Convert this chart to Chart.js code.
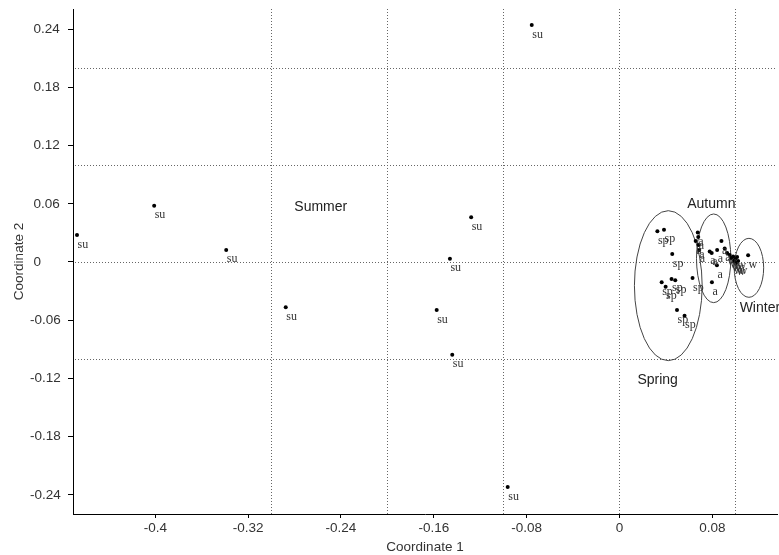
<!DOCTYPE html>
<html>
<head>
<meta charset="utf-8">
<script src="https://cdn.jsdelivr.net/npm/chart.js@4.4.1/dist/chart.umd.min.js"></script>
<style>
html,body{margin:0;padding:0;background:#fff;}
#wrap{width:779px;height:555px;}
</style>
</head>
<body>
<div id="wrap"><canvas id="c" width="779" height="555"></canvas></div>
<script>
// ---- data ----
const xTicks = [-0.4, -0.32, -0.24, -0.16, -0.08, 0, 0.08];
const yTicks = [0.24, 0.18, 0.12, 0.06, 0, -0.06, -0.12, -0.18, -0.24];
const xGridLines = [-0.3, -0.2, -0.1, 0, 0.1];
const yGridLines = [0.2, 0.1, 0, -0.1];

const summerX = [-0.4675, -0.401, -0.3389, -0.2876, -0.0756, -0.1278, -0.1461, -0.1575, -0.1441, -0.0963];
const summerY = [0.0278, 0.058, 0.0124, -0.0467, 0.2443, 0.0461, 0.0034, -0.0495, -0.0956, -0.232];

const springX = [0.0327, 0.0384, 0.0455, 0.0364, 0.0398, 0.0449, 0.0481, 0.0630, 0.0496, 0.0561];
const springY = [0.0316, 0.0333, 0.0082, -0.0209, -0.0255, -0.0175, -0.0189, -0.0165, -0.0495, -0.0554];

const autumnX = [0.0675, 0.0679, 0.0657, 0.0683, 0.0688, 0.0778, 0.0795, 0.0842, 0.0879, 0.0907, 0.0840, 0.0797];
const autumnY = [0.0304, 0.0258, 0.0216, 0.0175, 0.0124, 0.0108, 0.0093, 0.0124, 0.0216, 0.0139, -0.0034, -0.0209];

const winterX = [0.0928, 0.0950, 0.0963, 0.0980, 0.0997, 0.1014, 0.1023, 0.0984, 0.1006, 0.1109];
const winterY = [0.0093, 0.0072, 0.0041, 0.0057, 0.0031, 0.0052, 0.0010, 0.0010, -0.0010, 0.0069];

const seasonNames = ['Summer', 'Autumn', 'Winter', 'Spring'];
const seasonLabelX = [-0.2802, 0.0584, 0.1036, 0.0155];
const seasonLabelY = [0.0567, 0.0593, -0.0479, -0.1222];

// confidence ellipses: Spring, Autumn, Winter (data units)
const ellipseCx = [0.0421, 0.0812, 0.1116];
const ellipseCy = [-0.0244, 0.0038, -0.0060];
const ellipseRx = [0.0292, 0.0148, 0.0127];
const ellipseRy = [0.0773, 0.0457, 0.0304];

const pointTags = ['su', 'sp', 'a', 'w'];

function pts(xs, ys){ return xs.map((x,i)=>({x:x, y:ys[i]})); }

const SANS = '"Liberation Sans", Arial, sans-serif';
const SERIF = '"Liberation Serif", "Times New Roman", serif';

const overlay = {
  id: 'overlay',
  beforeDatasetsDraw(chart){
    const {ctx, chartArea:a, scales:{x, y}} = chart;
    ctx.save();
    ctx.strokeStyle = '#666';
    ctx.lineWidth = 1;
    ctx.setLineDash([1, 2]);
    yGridLines.forEach(v=>{
      const py = Math.round(y.getPixelForValue(v)) + 0.5;
      ctx.beginPath(); ctx.moveTo(a.left + 2, py); ctx.lineTo(a.right, py); ctx.stroke();
    });
    xGridLines.forEach(v=>{
      const px = Math.round(x.getPixelForValue(v)) + 0.5;
      ctx.beginPath(); ctx.moveTo(px, a.top); ctx.lineTo(px, a.bottom); ctx.stroke();
    });
    ctx.setLineDash([]);
    // ellipses
    ctx.strokeStyle = '#444';
    ctx.lineWidth = 1;
    ellipseCx.forEach((cx,i)=>{
      const px = x.getPixelForValue(cx), py = y.getPixelForValue(ellipseCy[i]);
      const rx = Math.abs(x.getPixelForValue(cx + ellipseRx[i]) - px);
      const ry = Math.abs(y.getPixelForValue(ellipseCy[i] + ellipseRy[i]) - py);
      ctx.beginPath(); ctx.ellipse(px, py, rx, ry, 0, 0, Math.PI*2); ctx.stroke();
    });
    ctx.restore();
  },
  afterDatasetsDraw(chart){
    const {ctx, scales:{x, y}} = chart;
    ctx.save();
    // point tags
    ctx.font = '12px ' + SERIF;
    ctx.fillStyle = '#333';
    ctx.textAlign = 'left';
    ctx.textBaseline = 'alphabetic';
    chart.data.datasets.forEach((ds, di)=>{
      const meta = chart.getDatasetMeta(di);
      meta.data.forEach(el=>{
        ctx.fillText(pointTags[di], el.x + 0.5, el.y + 12.5);
      });
    });
    // season names
    ctx.font = '14px ' + SANS;
    ctx.fillStyle = '#222';
    ctx.textBaseline = 'middle';
    seasonNames.forEach((n,i)=>{
      ctx.fillText(n, x.getPixelForValue(seasonLabelX[i]), y.getPixelForValue(seasonLabelY[i]));
    });
    // y tick labels (left aligned, minus hanging)
    ctx.font = '13.5px ' + SANS;
    ctx.fillStyle = '#333';
    yTicks.forEach(v=>{
      const lab = String(v);
      const px = v < 0 ? 30 : 33.5;
      ctx.fillText(lab, px, y.getPixelForValue(v));
    });
    ctx.restore();
  }
};

const dsBase = {pointRadius: 2, pointHoverRadius: 2, pointBackgroundColor: '#000', pointBorderWidth: 0, showLine: false};

new Chart(document.getElementById('c'), {
  type: 'scatter',
  data: {
    datasets: [
      Object.assign({label: 'Summer', data: pts(summerX, summerY)}, dsBase),
      Object.assign({label: 'Spring', data: pts(springX, springY)}, dsBase),
      Object.assign({label: 'Autumn', data: pts(autumnX, autumnY)}, dsBase),
      Object.assign({label: 'Winter', data: pts(winterX, winterY)}, dsBase)
    ]
  },
  options: {
    responsive: false,
    devicePixelRatio: 1,
    animation: false,
    events: [],
    layout: {padding: {left: 0, top: 9, right: 0, bottom: 0}},
    plugins: {legend: {display: false}, tooltip: {enabled: false}},
    scales: {
      x: {
        type: 'linear',
        min: -0.47095, max: 0.13579,
        afterBuildTicks: s => { s.ticks = xTicks.map(v=>({value: v})); },
        afterFit: s => { s.height = 41; },
        grid: {display: true, drawOnChartArea: false, drawTicks: true, tickLength: 4, color: '#000'},
        border: {display: true, color: '#000', width: 1},
        ticks: {color: '#333', font: {family: SANS, size: 13.5}, padding: 2.5, maxRotation: 0,
          callback: v => String(Math.round(v*100)/100)},
        title: {display: true, text: 'Coordinate 1', color: '#333', font: {family: SANS, size: 13.5}, padding: {top: 0, bottom: 0}}
      },
      y: {
        type: 'linear',
        min: -0.25979, max: 0.26082,
        afterBuildTicks: s => { s.ticks = yTicks.map(v=>({value: v})); },
        afterFit: s => { s.width = 73; },
        grid: {display: true, drawOnChartArea: false, drawTicks: true, tickLength: 5, color: '#000'},
        border: {display: true, color: '#000', width: 1},
        ticks: {display: false},
        title: {display: true, text: 'Coordinate 2', color: '#333', font: {family: SANS, size: 13.5}, padding: {top: 11.4, bottom: 0}}
      }
    }
  },
  plugins: [overlay]
});
</script>
</body>
</html>
